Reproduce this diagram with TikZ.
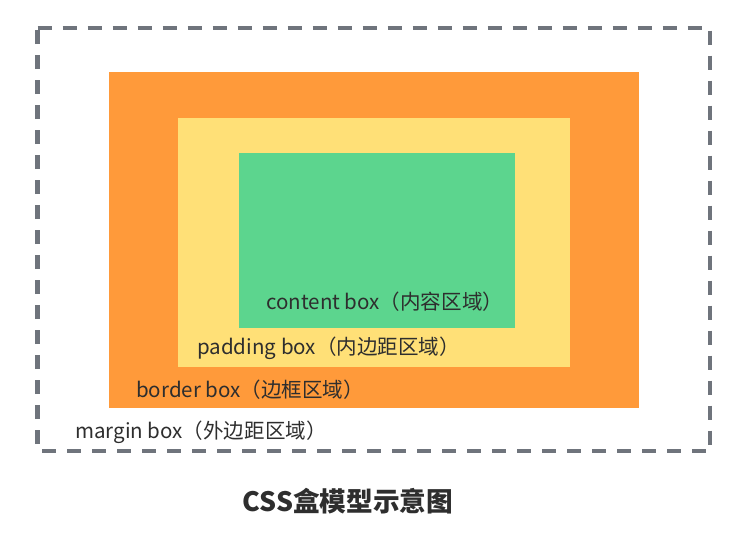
\documentclass[tikz,border=0pt]{standalone}
\usepackage{fontspec}
\setmainfont{Noto Sans CJK SC}
\usepackage{xcolor}
\usetikzlibrary{positioning}
\definecolor{dashgray}{HTML}{6F747C}
\definecolor{borderorange}{HTML}{FF9A3A}
\definecolor{paddingyellow}{HTML}{FFE077}
\definecolor{contentgreen}{HTML}{5CD58E}
\definecolor{labelgray}{HTML}{2E2E2E}
\tikzset{marginline/.style={draw=dashgray, line width=3.6pt, dash pattern=on 10.5pt off 8.25pt}}
\tikzset{boxlabel/.style={anchor=west, inner sep=0pt, text=labelgray, font=\fontsize{15.4}{18}\selectfont}}

\begin{document}
\begin{tikzpicture}[x=0.75pt, y=-0.75pt]
    \useasboundingbox (0, 0) rectangle (749, 532);

    \draw[marginline] (37.5, 28) -- (710, 28) -- (710, 451) -- (37.5, 451) -- cycle;
    \fill[borderorange] (109, 72) rectangle (638.5, 407.5);
    \fill[paddingyellow] (177.5, 117.5) rectangle (570, 366.5);
    \fill[contentgreen] (238.5, 153) rectangle (515, 328);

    \node[boxlabel] (contentlabel) at (266, 302) {content box（内容区域）};
    \node[boxlabel] (paddinglabel) at (197, 348) {padding box（内边距区域）};
    \node[boxlabel] (borderlabel) at (136, 390) {border box（边框区域）};
    \node[boxlabel] (marginlabel) at (75, 432) {margin box（外边距区域）};

    \node[inner sep=0pt, text=labelgray, font=\bfseries\fontsize{20}{24}\selectfont] (title) at (348, 501) {CSS盒模型示意图};
\end{tikzpicture}
\end{document}
